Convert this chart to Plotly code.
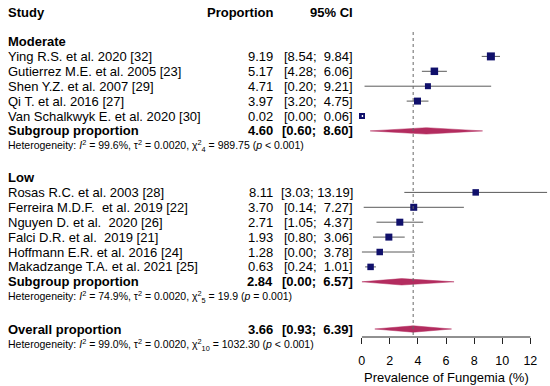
import plotly.graph_objects as go

# ---------------- data ----------------
moderate_studies = ["Ying R.S. et al. 2020 [32]", "Gutierrez M.E. et al. 2005 [23]",
                    "Shen Y.Z. et al. 2007 [29]", "Qi T. et al. 2016 [27]",
                    "Van Schalkwyk E. et al. 2020 [30]"]
moderate_prop = [9.19, 5.17, 4.71, 3.97, 0.02]
moderate_lo = [8.54, 4.28, 0.20, 3.20, 0.00]
moderate_hi = [9.84, 6.06, 9.21, 4.75, 0.06]
moderate_weight = [8, 7.5, 6, 7, 6]

low_studies = ["Rosas R.C. et al. 2003 [28]", "Ferreira M.D.F.\u00a0 et al. 2019 [22]",
               "Nguyen D. et al.\u00a0 2020 [26]", "Falci D.R. et al.\u00a0 2019 [21]",
               "Hoffmann E.R. et al. 2016 [24]", "Makadzange T.A. et al. 2021 [25]"]
low_prop = [8.11, 3.70, 2.71, 1.93, 1.28, 0.63]
low_lo = [3.03, 0.14, 1.05, 0.80, 0.00, 0.24]
low_hi = [13.19, 7.27, 4.37, 3.06, 3.78, 1.01]
low_weight = [6.5, 7, 7, 7, 6.5, 6.5]

subgroup_names = ["Moderate", "Low"]
subgroup_prop = [4.60, 2.84]
subgroup_lo = [0.60, 0.00]
subgroup_hi = [8.60, 6.57]
subgroup_het = [
    "Heterogeneity: <i>I</i><sup>2</sup> = 99.6%, τ<sup>2</sup> = 0.0020, χ<sup>2</sup><sub>4</sub> = 989.75 (<i>p</i> < 0.001)",
    "Heterogeneity: <i>I</i><sup>2</sup> = 74.9%, τ<sup>2</sup> = 0.0020, χ<sup>2</sup><sub>5</sub> = 19.9 (<i>p</i> = 0.001)",
]
overall_prop, overall_lo, overall_hi = 3.66, 0.93, 6.39
overall_het = "Heterogeneity: <i>I</i><sup>2</sup> = 99.0%, τ<sup>2</sup> = 0.0020, χ<sup>2</sup><sub>10</sub> = 1032.30 (<i>p</i> < 0.001)"

x_ticks = [0, 2, 4, 6, 8, 10, 12]
x_title = "Prevalence of Fungemia (%)"

# ---------------- layout constants ----------------
W, H = 550, 386
PX_PER_UNIT = 14.13
X0_PX = 360.7
XMAX = 13.3
ROW = 14.9
AXIS_Y = 337
FONT = "Liberation Sans, Arial, sans-serif"
NAVY = "#10106B"
DIAMOND = "#B32C5F"
LINEC = "#5a5a5a"
FS = 13
HET_FS = 10.5

groups = [
    (moderate_studies, moderate_prop, moderate_lo, moderate_hi, moderate_weight),
    (low_studies, low_prop, low_lo, low_hi, low_weight),
]
group_start = [41.5, 177.5]

def ci(lo, hi):
    return "[" + f"{lo:.2f};" + "\u00a0" + f"{hi:5.2f}".replace(" ", "\u00a0") + "]"

fig = go.Figure()
ann = []

def txt(x_px, y, s, anchor="left", bold=False, size=FS):
    if bold:
        s = "<b>" + s + "</b>"
    ann.append(dict(x=x_px / W, xref="paper", y=y, yref="y", text=s, showarrow=False,
                    xanchor=anchor, yanchor="middle",
                    font=dict(family=FONT, size=size, color="#000")))

# headers
txt(3, 12, "Study", bold=True)
txt(273.5, 12, "Proportion", anchor="right", bold=True)
txt(353.5, 12, "95% CI", anchor="right", bold=True)

line_x, line_y = [], []
white_x, white_y = [], []
sq_x, sq_y, sq_s = [], [], []

def diamond(y, est, lo, hi, h=3.2):
    fig.add_trace(go.Scatter(x=[lo, est, hi, est, lo], y=[y, y - h, y, y + h, y],
                             fill="toself", fillcolor=DIAMOND, mode="lines",
                             line=dict(color=DIAMOND, width=0.5), hoverinfo="skip",
                             showlegend=False))

for gi, (names, prop, lo, hi, wt) in enumerate(groups):
    y = group_start[gi]
    txt(3, y, subgroup_names[gi], bold=True)
    for k in range(len(names)):
        y += ROW
        txt(3, y, names[k])
        txt(273.5, y, f"{prop[k]:.2f}", anchor="right")
        txt(353.5, y, ci(lo[k], hi[k]), anchor="right")
        if (hi[k] - lo[k]) * PX_PER_UNIT < wt[k]:
            white_x += [lo[k] - 0.04, hi[k] + 0.04, None]
            white_y += [y, y, None]
        else:
            line_x += [lo[k], hi[k], None]
            line_y += [y, y, None]
        sq_x.append(prop[k]); sq_y.append(y); sq_s.append(wt[k])
    y += ROW
    txt(3, y, "Subgroup proportion", bold=True)
    txt(273.5, y, f"{subgroup_prop[gi]:.2f}", anchor="right", bold=True)
    txt(353.5, y, ci(subgroup_lo[gi], subgroup_hi[gi]), anchor="right", bold=True)
    diamond(y, subgroup_prop[gi], subgroup_lo[gi], subgroup_hi[gi])
    y += ROW
    txt(3, y, subgroup_het[gi], size=HET_FS)

y_over = 329
txt(3, y_over, "Overall proportion", bold=True)
txt(273.5, y_over, f"{overall_prop:.2f}", anchor="right", bold=True)
txt(353.5, y_over, ci(overall_lo, overall_hi), anchor="right", bold=True)
diamond(y_over, overall_prop, overall_lo, overall_hi)
txt(3, y_over + 15.5, overall_het, size=HET_FS)

fig.add_trace(go.Scatter(x=line_x, y=line_y, mode="lines", line=dict(color=LINEC, width=1),
                         hoverinfo="skip", showlegend=False))
fig.add_trace(go.Scatter(x=sq_x, y=sq_y, mode="markers", opacity=1, cliponaxis=False,
                         marker=dict(symbol="square", size=sq_s, color=NAVY, opacity=1,
                                     line=dict(width=0)),
                         hoverinfo="skip", showlegend=False))
if white_x:
    fig.add_trace(go.Scatter(x=white_x, y=white_y, mode="lines", line=dict(color="white", width=2),
                             hoverinfo="skip", showlegend=False))

# reference dotted line & axis line
fig.add_shape(type="line", xref="x", yref="y", x0=overall_prop, x1=overall_prop, y0=32, y1=AXIS_Y,
              line=dict(color="#666", width=1, dash="dot"))
fig.add_shape(type="line", xref="x", yref="y", x0=x_ticks[0], x1=x_ticks[-1], y0=AXIS_Y, y1=AXIS_Y,
              line=dict(color="#222", width=1))

ann.append(dict(x=(x_ticks[0] + x_ticks[-1]) / 2, xref="x", y=377, yref="y", text=x_title,
                showarrow=False, xanchor="center", yanchor="middle",
                font=dict(family=FONT, size=FS, color="#000")))

fig.update_layout(
    width=W, height=H, margin=dict(l=0, r=0, t=0, b=0),
    paper_bgcolor="white", plot_bgcolor="white",
    annotations=ann, showlegend=False,
    xaxis=dict(domain=[X0_PX / W, (X0_PX + XMAX * PX_PER_UNIT) / W], range=[0, XMAX],
               anchor="free", position=(H - AXIS_Y) / H,
               tickvals=x_ticks, ticktext=[str(t) for t in x_ticks],
               ticks="outside", ticklen=6, tickwidth=1, tickcolor="#222",
               ticklabelstandoff=6,
               showgrid=False, zeroline=False, showline=False,
               tickfont=dict(family=FONT, size=12.5, color="#000")),
    yaxis=dict(domain=[0, 1], range=[H, 0], visible=False, showgrid=False, zeroline=False),
)

fig.write_html("out.html", config={"displayModeBar": False},
               post_script="document.body.style.margin='0';document.body.style.padding='0';")
